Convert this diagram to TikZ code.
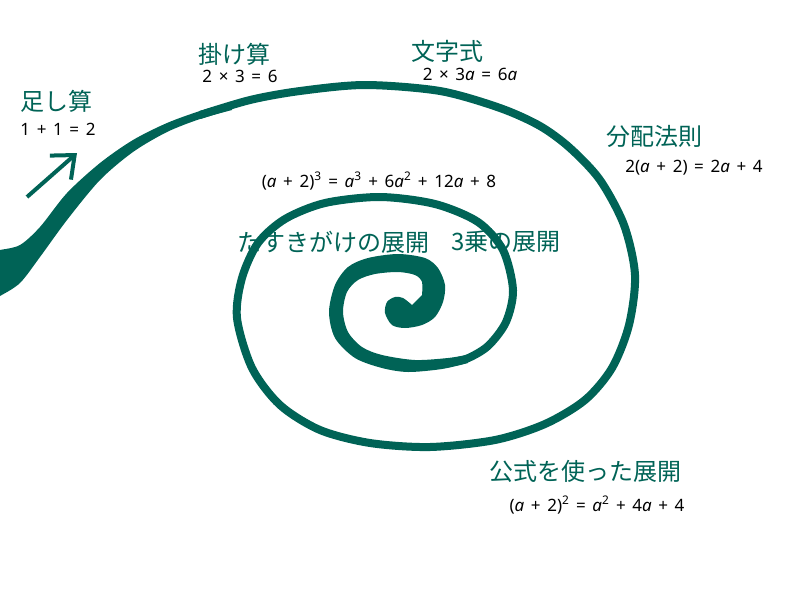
\documentclass[tikz,border=0pt]{standalone}
\usepackage{fontspec}
\usetikzlibrary{arrows.meta}
\newfontfamily\jpfont{Noto Sans CJK JP}
\newfontfamily\eqfont{Noto Sans}[WordSpace=1.5]
\definecolor{spiralgreen}{RGB}{0,99,86}
\newcommand{\va}{\textit{a}}
\newcommand{\pw}[1]{\textsuperscript{#1}}
\tikzset{
	jlabel/.style={inner sep=0pt,text=spiralgreen,font=\jpfont\fontsize{24}{24}\selectfont},
	formula/.style={inner sep=0pt,text=black,font=\eqfont\fontsize{17}{17}\selectfont}
}
\begin{document}
\begin{tikzpicture}[x=1pt,y=-1pt]
				\useasboundingbox(0,0)rectangle(800,600);
				% tail
				\fill[spiralgreen]plot[smooth]coordinates{(-5,251)(0,250)(20,245)(40,227)(67,193)(100,163)(133,140)(167,123)(200,111)(232,102)}
					--plot[smooth]coordinates{(232,110)(200,119)(167,132)(133,152)(100,180)(67,220)(40,257)(20,283)(0,296)(-5,298)}--cycle;
				% outer and middle turns
				\draw[spiralgreen,line width=8pt]plot[smooth]coordinates{(200,115)(250,100)(300,91)(365,85)(440,91)(500,108)(540,126)(570,148)(600,180)(624,225)(635,275)(629,325)(612,368)(585,400)(545,424)(495,440)(430,447)(370,443)(320,430)(280,405)(252,368)(237,318)(242,278)(258,243)(285,219)(325,203)(380,197)(435,204)(478,222)(503,250)(513,290)(506,322)(488,346)(466,359)(445,363)};
				% inner curl
				\fill[spiralgreen]plot[smooth]coordinates{(468,363)(442,369)(408,372)(382,368)(355,358)(335,338)(329,312)(335,285)(348,267)(368,258)(398,254)(425,258)(438,268)(445,285)(443,302)(435,317)(422,325)(405,328)(392,325)(385,313)(387,302)(395,297)(403,298)(412,305)}
					--plot[smooth]coordinates{(422,295)(422,282)(415,275)(398,272)(375,274)(358,280)(347,292)(343,312)(348,332)(362,347)(382,355)(415,360)(448,358)(466,355)}--cycle;
				% arrow
				\coordinate(arrowtail)at(27,197);
				\coordinate(arrowtip)at(77,153);
				\draw[spiralgreen,line width=4pt,-{Straight Barb[length=19pt,width=32pt]}](arrowtail)--(arrowtip);
				% labels
				\node[jlabel](add)at(56,101){足し算};
				\node[formula](addeq)at(58,129){1 + 1 = 2};
				\node[jlabel](mul)at(234,54){掛け算};
				\node[formula](muleq)at(240,76){2 × 3 = 6};
				\node[jlabel](letter)at(447,51){文字式};
				\node[formula](lettereq)at(470,74){2 × 3\va{} = 6\va};
				\node[jlabel](dist)at(654,136){分配法則};
				\node[formula](disteq)at(694,168){2(\va{} + 2) = 2\va{} + 4};
				\node[formula](cubeeq)at(379,181){(\va{} + 2)\pw{3} = \va\pw{3} + 6\va\pw{2} + 12\va{} + 8};
				\node[jlabel](cross)at(333,242){たすきがけの展開};
				\node[jlabel](cube)at(506,242){3乗の展開};
				\node[jlabel](square)at(585,471){公式を使った展開};
				\node[formula](squareeq)at(597,505){(\va{} + 2)\pw{2} = \va\pw{2} + 4\va{} + 4};
			\end{tikzpicture}
\end{document}
